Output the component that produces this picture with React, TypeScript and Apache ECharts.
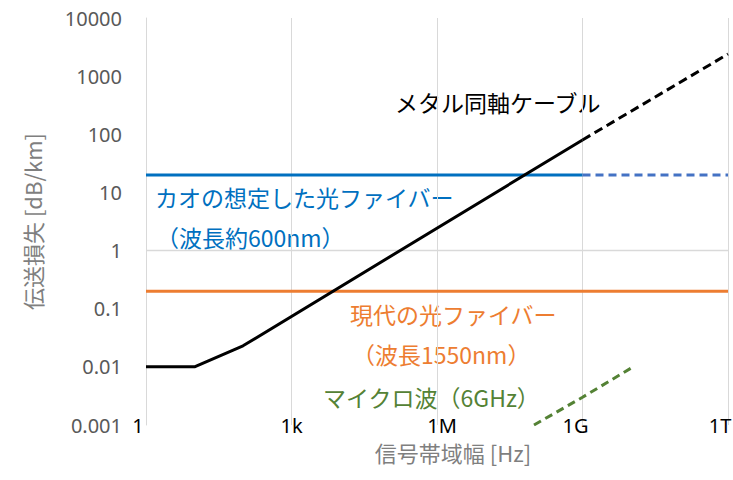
import React, { useEffect, useRef } from "react";
import * as echarts from "echarts";

// ---- data ----
const xTickLabels = ["1", "1k", "1M", "1G", "1T"];
const yTickLabels = ["0.001", "0.01", "0.1", "1", "10", "100", "1000", "10000"];

const coaxSolid: [number, number][] = [
  [1, 0.01],
  [10, 0.01],
  [100, 0.023],
  [1e9, 80],
];
const coaxDashed: [number, number][] = [
  [1e9, 80],
  [1e12, 2400],
];
const kaoSolid: [number, number][] = [
  [1, 20],
  [1e9, 20],
];
const kaoDashed: [number, number][] = [
  [1e9, 20],
  [1e12, 20],
];
const modernFiber: [number, number][] = [
  [1, 0.2],
  [1e12, 0.2],
];
const microwave: [number, number][] = [
  [1e8, 0.001],
  [1e9, 0.003],
  [1e10, 0.0095],
];
const refLineY = [1];

const JP = '"Noto Sans CJK JP", "Noto Sans", sans-serif';

export default function App() {
  const ref = useRef<HTMLDivElement>(null);
  useEffect(() => {
    if (!ref.current) return;
    const chart = echarts.init(ref.current, undefined, { renderer: "svg" });
    const labelPad: Record<string, number[]> = {
      l0: [0, 16, 0, 0],
      l1: [0, 0, 0, 0],
      l2: [0, 0, 0, 10],
      l3: [0, 14, 0, 0],
      l4: [0, 16, 0, 0],
    };
    const rich: Record<string, any> = {};
    Object.keys(labelPad).forEach((k) => {
      rich[k] = {
        padding: labelPad[k],
        fontSize: 20,
        lineHeight: 18,
        color: "#000000",
        fontFamily: '"Noto Sans", sans-serif',
      };
    });
    const line = (
      name: string,
      data: [number, number][],
      color: string,
      width: number,
      type: any,
      z: number,
      extra: any = {}
    ) => ({
      name,
      type: "line",
      data,
      showSymbol: false,
      symbol: "none",
      z,
      lineStyle: { color, width, type, cap: "butt" },
      itemStyle: { color },
      ...extra,
    });
    const note = (text: string, x: number, y: number, fill: string) => ({
      type: "text",
      x,
      y,
      style: {
        text,
        fill,
        font: `23px ${JP}`,
        lineHeight: 22,
        textAlign: "left",
        textVerticalAlign: "middle",
      },
    });
    chart.setOption({
      animation: false,
      grid: { left: 146, right: 5, top: 18, bottom: 55, outerBoundsMode: "none", containLabel: false },
      xAxis: {
        type: "log",
        logBase: 1000,
        min: 1,
        max: 1e12,
        interval: 1,
        axisLine: { show: false },
        axisTick: { show: false },
        splitLine: { show: true, lineStyle: { color: "#D9D9D9", width: 1 } },
        axisLabel: {
          margin: 0,
          verticalAlign: "middle",
          lineHeight: 18,
          showMinLabel: true,
          showMaxLabel: true,
          formatter: (v: number) => {
            const i = Math.round(Math.log10(v) / 3);
            return `{l${i}|${xTickLabels[i]}}`;
          },
          rich,
        },
      },
      yAxis: {
        type: "log",
        logBase: 10,
        min: 0.001,
        max: 10000,
        axisLine: { show: true, lineStyle: { color: "#D9D9D9", width: 1 } },
        axisTick: { show: false },
        splitLine: { show: false },
        axisLabel: {
          margin: 24,
          fontSize: 20,
          color: "#595959",
          fontFamily: '"Noto Sans", sans-serif',
          formatter: (v: number) => {
            const i = Math.round(Math.log10(v)) + 3;
            return yTickLabels[i];
          },
        },
        name: "伝送損失 [dB/km]",
        nameLocation: "middle",
        nameRotate: 90,
        nameGap: 103,
        nameTextStyle: { fontSize: 22, color: "#7F7F7F", fontFamily: JP },
      },
      series: [
        line("modern", modernFiber, "#ED7D31", 3, "solid", 3, {
          markLine: {
            silent: true,
            symbol: "none",
            label: { show: false },
            lineStyle: { color: "#D9D9D9", width: 1.3, type: "solid" },
            data: refLineY.map((y) => ({ yAxis: y })),
            z: 1,
          },
        }),
        line("kaoSolid", kaoSolid, "#0070C0", 3, "solid", 3),
        line("kaoDashed", kaoDashed, "#4472C4", 3, [8, 5], 3),
        line("microwave", microwave, "#548235", 3, [8, 5], 3),
        line("coaxSolid", coaxSolid, "#000000", 3, "solid", 4),
        line("coaxDashed", coaxDashed, "#000000", 3, [9, 5], 4),
      ],
      graphic: [
        {
          type: "text",
          x: 453,
          y: 452,
          style: {
            text: "信号帯域幅 [Hz]",
            fill: "#7F7F7F",
            font: `22px ${JP}`,
            textAlign: "center",
            textVerticalAlign: "middle",
          },
        },
        note("メタル同軸ケーブル", 395, 102, "#000000"),
        note("カオの想定した光ファイバー", 155, 197, "#0070C0"),
        note("（波長約600nm）", 156, 237, "#0070C0"),
        note("現代の光ファイバー", 350, 314, "#ED7D31"),
        note("（波長1550nm）", 352, 354, "#ED7D31"),
        note("マイクロ波（6GHz）", 323, 397, "#548235"),
      ],
    });
    return () => chart.dispose();
  }, []);
  return (
    <div
      ref={ref}
      style={{ position: "fixed", left: 0, top: 0, width: 733, height: 480, background: "#fff" }}
    />
  );
}
